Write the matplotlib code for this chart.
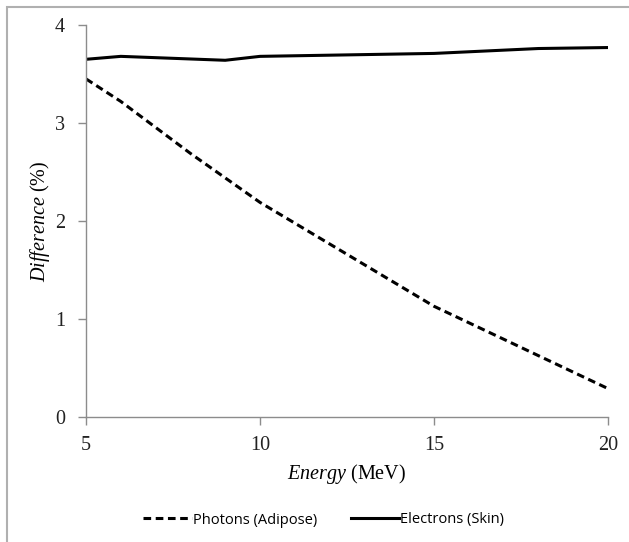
import matplotlib
matplotlib.use("Agg")
import matplotlib.pyplot as plt
from matplotlib.patches import Rectangle

photon_energy = [5, 6, 8, 10, 15, 20]
photon_diff = [3.45, 3.22, 2.69, 2.19, 1.13, 0.29]
electron_energy = [5, 6, 9, 10, 15, 18, 20]
electron_diff = [3.65, 3.68, 3.64, 3.68, 3.71, 3.76, 3.77]
xticks = [5, 10, 15, 20]
yticks = [0, 1, 2, 3, 4]

plt.rcParams['mathtext.fontset'] = 'custom'
plt.rcParams['mathtext.rm'] = 'Liberation Serif'
plt.rcParams['mathtext.it'] = 'Liberation Serif:italic'

fig = plt.figure(figsize=(6.29, 5.42), dpi=100)
fig.patches.append(Rectangle((7/629, -0.1), 1.2, 1 - 7/542 + 0.1, transform=fig.transFigure,
                             fill=False, edgecolor='#b0b0b0', linewidth=1.5, zorder=0))
ax = fig.add_axes([86/629, 1 - 417/542, (608 - 86)/629, (417 - 25)/542])

ax.plot(photon_energy, photon_diff, color='black', linewidth=2.2, linestyle=(0, (2.5, 1.5)),
        label='Photons (Adipose)')
ax.plot(electron_energy, electron_diff, color='black', linewidth=2.2, label='Electrons (Skin)')

ax.set_xlim(5, 20)
ax.set_ylim(0, 4)
ax.set_xticks(xticks)
ax.set_yticks(yticks)
for s in ['top', 'right']:
    ax.spines[s].set_visible(False)
for s in ['left', 'bottom']:
    ax.spines[s].set_color('#8c8c8c')
    ax.spines[s].set_linewidth(1.0)
ax.tick_params(colors='#8c8c8c', length=6, width=1.0, labelcolor='#222222')
for lab in ax.get_xticklabels() + ax.get_yticklabels():
    lab.set_fontfamily('Liberation Serif')
    lab.set_fontsize(14.5)
ax.tick_params(axis='x', pad=8)
ax.tick_params(axis='y', pad=9)

ax.set_xlabel(r'$\mathit{Energy}$ (MeV)', fontsize=14.5, family='Liberation Serif', labelpad=5)
ax.set_ylabel(r'$\mathit{Difference}$ (%)', fontsize=14.5, family='Liberation Serif', labelpad=2)

fig.legend(loc='center', bbox_to_anchor=(0.515, 1 - 520/542), ncol=2, frameon=False,
           prop={'family': 'Open Sans', 'size': 10.5}, handlelength=3.3, handletextpad=0.1,
           columnspacing=2.3)

fig.savefig('out.png', dpi=100)
